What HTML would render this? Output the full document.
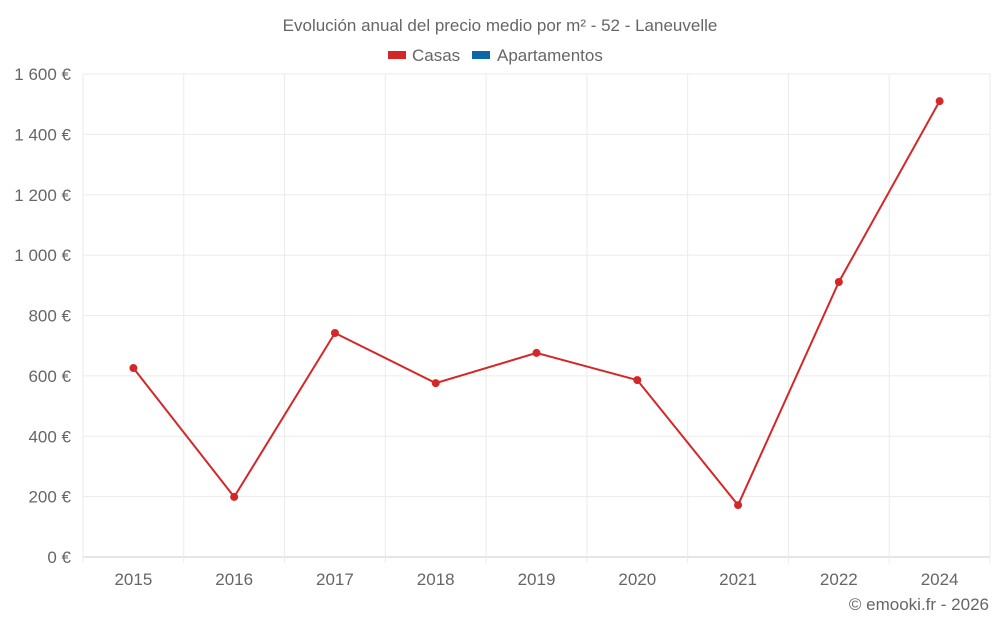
<!DOCTYPE html>
<html><head><meta charset="utf-8"><style>
body{margin:0;background:#fff;font-family:"Liberation Sans",sans-serif;}
svg text{font-family:"Liberation Sans",sans-serif;fill:#666;}
</style></head><body>
<svg id="chart" width="1000" height="625" xmlns="http://www.w3.org/2000/svg">
<text x="500" y="31" text-anchor="middle" font-size="17">Evolución anual del precio medio por m² - 52 - Laneuvelle</text>
<g><rect x="388" y="51" width="18" height="8" fill="#d62728"/><text x="412" y="61" font-size="17">Casas</text></g>
<g><rect x="472" y="51" width="18" height="8" fill="#0b67a7"/><text x="497" y="61" font-size="17">Apartamentos</text></g>
<g id="grid"></g><g id="axes"></g><g id="series"></g>
<text x="989" y="610" text-anchor="end" font-size="17">© emooki.fr - 2026</text>
</svg>
<script>
const categories=["2015","2016","2017","2018","2019","2020","2021","2022","2024"];
const casas=[626,199,742,576,676,586,172,911,1510];
const yTicks=[0,200,400,600,800,1000,1200,1400,1600];
const yTickLabels=["0 €","200 €","400 €","600 €","800 €","1 000 €","1 200 €","1 400 €","1 600 €"];
const L=83,R=990,T=74,B=557,yMax=1600;
const bw=(R-L)/categories.length;
const x=i=>L+bw*(i+0.5);
const y=v=>B-(v/yMax)*(B-T);
const NS="http://www.w3.org/2000/svg";
function mk(tag,attrs,parent){const e=document.createElementNS(NS,tag);for(const k in attrs)e.setAttribute(k,attrs[k]);parent.appendChild(e);return e;}
const grid=document.getElementById('grid'),axes=document.getElementById('axes'),series=document.getElementById('series');
yTicks.forEach((t,i)=>{
  const l=mk('line',{x1:L,x2:R,y1:y(t),y2:y(t),stroke:i==0?'#ccc':'#ebebeb'},grid);
  
  
  const tx=mk('text',{x:71,y:y(t)+6,'text-anchor':'end','font-size':17},axes);
  tx.textContent=yTickLabels[i];
  
  
});
for(let i=0;i<=categories.length;i++){
  const l=mk('line',{x1:L+bw*i,x2:L+bw*i,y1:T,y2:B+6,stroke:'#ebebeb'},grid);
  
  
}
categories.forEach((c,i)=>{
  const tx=mk('text',{x:x(i),y:585,'text-anchor':'middle','font-size':17},axes);
  tx.textContent=c;
  
  
});
const p=mk('polyline',{points:casas.map((v,i)=>x(i)+','+y(v)).join(' '),fill:'none',stroke:'#d62728','stroke-width':2},series);


casas.forEach((v,i)=>{
  const c=mk('circle',{cx:x(i),cy:y(v),r:4,fill:'#d62728'},series);
  
  
});
</script>
</body></html>
